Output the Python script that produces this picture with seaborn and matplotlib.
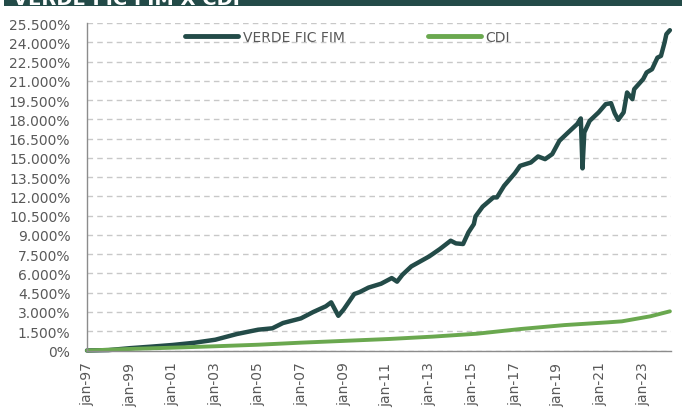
import pandas as pd
import numpy as np
import matplotlib
matplotlib.use("Agg")
import matplotlib.pyplot as plt
import matplotlib.ticker as mticker
from matplotlib.patches import Rectangle
import seaborn as sns

## Data
verde_dates = [
    "1997-01", "1998-01", "1999-01", "2000-01", "2001-01", "2002-01", "2003-01",
    "2004-01", "2005-01", "2005-09", "2006-03", "2007-01", "2007-08", "2008-03",
    "2008-06", "2008-10", "2009-01", "2009-07", "2009-10", "2010-03", "2010-10",
    "2011-04", "2011-07", "2011-10", "2012-03", "2013-01", "2013-07", "2014-01",
    "2014-04", "2014-08", "2014-11", "2015-02", "2015-03", "2015-07", "2016-01",
    "2016-03", "2016-07", "2017-01", "2017-04", "2017-10", "2018-02", "2018-06",
    "2018-10", "2019-02", "2019-07", "2019-12", "2020-02", "2020-03", "2020-04",
    "2020-07", "2020-12", "2021-04", "2021-07", "2021-09", "2021-11", "2022-02",
    "2022-04", "2022-07", "2022-08", "2023-01", "2023-03", "2023-06", "2023-09",
    "2023-11", "2024-01", "2024-02", "2024-04",
]
verde_values = [
    0.0, 0.03, 0.18, 0.30, 0.43, 0.60, 0.84,
    1.28, 1.62, 1.73, 2.14, 2.50, 3.00, 3.44,
    3.75, 2.70, 3.20, 4.40, 4.55, 4.90, 5.20,
    5.64, 5.36, 5.90, 6.55, 7.33, 7.90, 8.55,
    8.34, 8.29, 9.20, 9.84, 10.44, 11.20, 11.92,
    11.92, 12.82, 13.80, 14.38, 14.64, 15.11, 14.90,
    15.29, 16.33, 16.98, 17.63, 18.07, 14.18, 16.98,
    17.88, 18.54, 19.18, 19.26, 18.48, 17.96, 18.54,
    20.09, 19.57, 20.35, 21.13, 21.65, 21.90, 22.80,
    22.94, 23.98, 24.63, 24.94,
]

cdi_dates = [
    "1997-01", "1999-01", "2001-01", "2003-01", "2005-01", "2007-01", "2009-03",
    "2011-03", "2013-03", "2015-04", "2017-04", "2019-05", "2021-05", "2022-01",
    "2023-05", "2024-04",
]
cdi_values = [
    0.0, 0.12, 0.22, 0.33, 0.45, 0.61, 0.76,
    0.90, 1.08, 1.31, 1.67, 1.98, 2.19, 2.27,
    2.66, 3.05,
]

series_names = ["VERDE FIC FIM", "CDI"]
tick_years = list(range(1997, 2024, 2))
y_ticks = [1.5 * i for i in range(18)]

## Build long-form frame
df = pd.concat([
    pd.DataFrame({"date": pd.to_datetime(verde_dates), "value": verde_values, "serie": series_names[0]}),
    pd.DataFrame({"date": pd.to_datetime(cdi_dates), "value": cdi_values, "serie": series_names[1]}),
])

sns.set_style("white")
plt.rcParams["font.family"] = ["DejaVu Sans"]

text_color = "#595959"
axis_color = "#8c8c8c"
palette = {series_names[0]: "#234b48", series_names[1]: "#6aa84f"}

fig = plt.figure(figsize=(6.82, 4.14), dpi=100)
ax = fig.add_axes([87 / 682, 1 - 351.5 / 414, (671 - 87) / 682, (351.5 - 24) / 414])

sns.lineplot(data=df, x="date", y="value", hue="serie", palette=palette,
             linewidth=2.8, ax=ax, legend=True)
for line, lw in zip(ax.get_lines(), [3.2, 2.8]):
    line.set_linewidth(lw)
    line.set_solid_capstyle("round")
    line.set_solid_joinstyle("round")
    line.set_clip_on(False)

# axes limits and ticks
ax.set_xlim(pd.Timestamp("1997-01-01"), pd.Timestamp("2024-04-20"))
ax.set_ylim(0, 25.5)
ax.set_yticks(y_ticks)
ax.yaxis.set_major_formatter(mticker.FuncFormatter(lambda v, p: "0%" if v == 0 else f"{v:.3f}%"))
ax.set_xticks([pd.Timestamp(f"{y}-01-01") for y in tick_years])
ax.set_xticklabels([f"jan-{y % 100:02d}" for y in tick_years], rotation=90)
ax.set_xlabel("")
ax.set_ylabel("")

ax.tick_params(axis="both", colors=axis_color, labelcolor=text_color, labelsize=10,
               length=4, width=1, direction="out")
ax.tick_params(axis="y", pad=8)
ax.tick_params(axis="x", pad=4)

# grid
ax.yaxis.grid(True, color="#c8c8c8", linestyle=(0, (4, 3)), linewidth=1)
ax.xaxis.grid(False)
for side in ["top", "right"]:
    ax.spines[side].set_visible(False)
for side in ["left", "bottom"]:
    ax.spines[side].set_color(axis_color)
    ax.spines[side].set_linewidth(1)

# legend
handles, labels = ax.get_legend_handles_labels()
leg = ax.legend(handles, labels, ncol=2, frameon=False, loc="center",
                bbox_to_anchor=(0.446, 0.958), fontsize=10, handlelength=3.8,
                handletextpad=0.35, columnspacing=6.0, labelcolor=text_color)
for h in leg.get_lines():
    h.set_linewidth(3.5)

# header bar (cut off at the top of the image, as in the source)
fig.patches.append(Rectangle((4 / 682, 1 - 7 / 414), 1, 7 / 414, transform=fig.transFigure,
                             facecolor="#234b48", edgecolor="none", zorder=0))
fig.text(13 / 682, 1 - 5 / 414, "VERDE FIC FIM X CDI", color="white", fontsize=14,
         fontweight="bold", va="baseline", ha="left")

fig.savefig("out.png", dpi=100)
